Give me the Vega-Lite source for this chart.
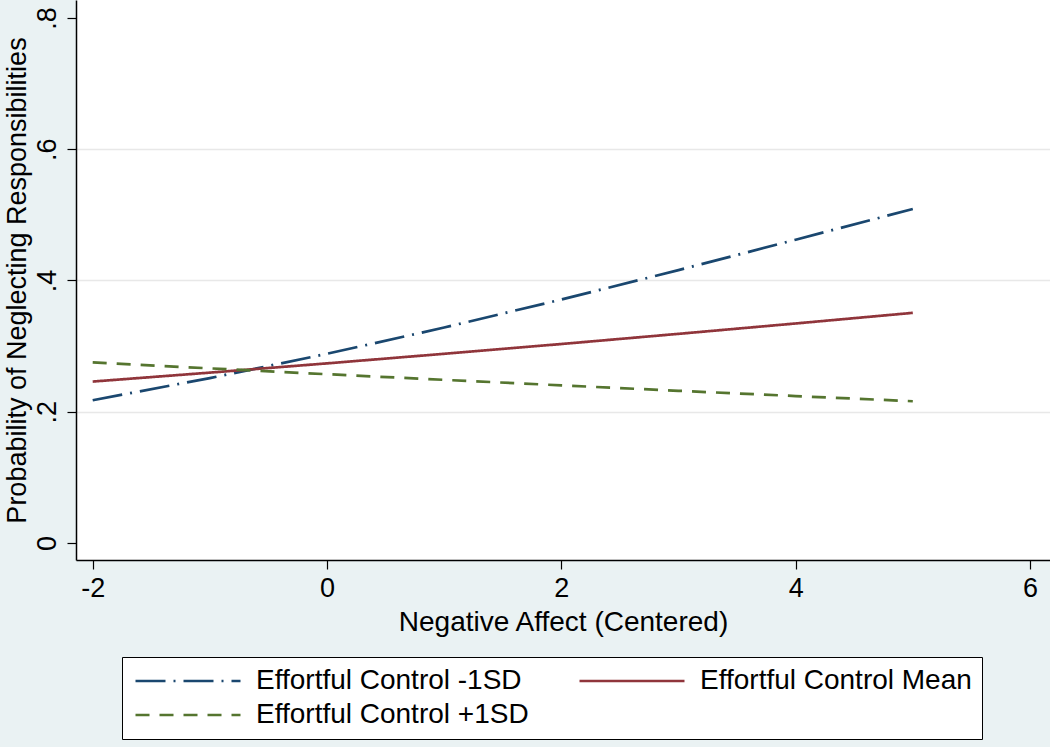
{
  "$schema": "https://vega.github.io/schema/vega-lite/v6.json",
  "width": 974,
  "height": 560,
  "autosize": {"type": "none"},
  "padding": {"left": 76, "top": 0, "right": 0, "bottom": 187},
  "background": "#EAF2F3",
  "config": {
    "font": "Liberation Sans",
    "view": {"fill": "white", "stroke": null},
    "axis": {
      "domainColor": "black",
      "domainWidth": 1.5,
      "tickColor": "black",
      "tickWidth": 1.2,
      "tickSize": 9,
      "labelColor": "black",
      "titleColor": "black",
      "labelFontSize": 27,
      "titleFontSize": 28,
      "titleFontWeight": "normal",
      "gridColor": "#E8E8E8",
      "gridWidth": 1.5
    },
    "legend": {
      "orient": "none",
      "legendX": 46,
      "legendY": 657,
      "direction": "horizontal",
      "columns": 2,
      "columnPadding": 45,
      "rowPadding": 6,
      "padding": 10,
      "strokeColor": "black",
      "fillColor": "white",
      "symbolType": "M-5,0H5",
      "symbolSize": 441,
      "symbolOffset": 42,
      "symbolStrokeWidth": 2.5,
      "labelFontSize": 28,
      "labelColor": "black",
      "labelOffset": 54,
      "labelLimit": 400
    }
  },
  "data": {
    "values": [
      {"series": "Effortful Control -1SD", "x": -2, "p": 0.2175},
      {"series": "Effortful Control -1SD", "x": -1, "p": 0.2513},
      {"series": "Effortful Control -1SD", "x": 0, "p": 0.2883},
      {"series": "Effortful Control -1SD", "x": 1, "p": 0.3283},
      {"series": "Effortful Control -1SD", "x": 2, "p": 0.3710},
      {"series": "Effortful Control -1SD", "x": 3, "p": 0.4158},
      {"series": "Effortful Control -1SD", "x": 4, "p": 0.4621},
      {"series": "Effortful Control -1SD", "x": 5, "p": 0.5090},
      {"series": "Effortful Control Mean", "x": -2, "p": 0.2460},
      {"series": "Effortful Control Mean", "x": -1, "p": 0.2596},
      {"series": "Effortful Control Mean", "x": 0, "p": 0.2737},
      {"series": "Effortful Control Mean", "x": 1, "p": 0.2883},
      {"series": "Effortful Control Mean", "x": 2, "p": 0.3032},
      {"series": "Effortful Control Mean", "x": 3, "p": 0.3187},
      {"series": "Effortful Control Mean", "x": 4, "p": 0.3345},
      {"series": "Effortful Control Mean", "x": 5, "p": 0.3507},
      {"series": "Effortful Control +1SD", "x": -2, "p": 0.2751},
      {"series": "Effortful Control +1SD", "x": -1, "p": 0.2661},
      {"series": "Effortful Control +1SD", "x": 0, "p": 0.2572},
      {"series": "Effortful Control +1SD", "x": 1, "p": 0.2486},
      {"series": "Effortful Control +1SD", "x": 2, "p": 0.2402},
      {"series": "Effortful Control +1SD", "x": 3, "p": 0.2319},
      {"series": "Effortful Control +1SD", "x": 4, "p": 0.2239},
      {"series": "Effortful Control +1SD", "x": 5, "p": 0.2160}
    ]
  },
  "mark": {"type": "line", "strokeWidth": 2.7, "clip": true},
  "encoding": {
    "x": {
      "field": "x",
      "type": "quantitative",
      "scale": {"domain": [-2.1425, 6.171], "nice": false, "zero": false},
      "axis": {
        "title": "Negative Affect (Centered)",
        "values": [-2, 0, 2, 4, 6],
        "labelExpr": "datum.value < 0 ? '-' + abs(datum.value) : '' + datum.value",
        "grid": false,
        "labelPadding": 6,
        "titlePadding": 7
      }
    },
    "y": {
      "field": "p",
      "type": "quantitative",
      "scale": {"domain": [-0.0259, 0.8274], "nice": false, "zero": false},
      "axis": {
        "title": "Probability of Neglecting Responsibilities",
        "titleFontSize": 27,
        "values": [0, 0.2, 0.4, 0.6, 0.8],
        "labelExpr": "datum.value == 0 ? '0' : replace(format(datum.value, '.1f'), '0.', '.')",
        "labelAngle": -90,
        "labelAlign": "center",
        "labelBaseline": "bottom",
        "labelPadding": 6,
        "titlePadding": 2,
        "grid": true,
        "gridOpacity": {"condition": {"test": "datum.value > 0.01 && datum.value < 0.79", "value": 1}, "value": 0}
      }
    },
    "color": {
      "field": "series",
      "type": "nominal",
      "sort": ["Effortful Control -1SD", "Effortful Control Mean", "Effortful Control +1SD"],
      "scale": {
        "domain": ["Effortful Control -1SD", "Effortful Control Mean", "Effortful Control +1SD"],
        "range": ["#1a476f", "#90353b", "#55752f"]
      },
      "legend": {"title": null}
    },
    "strokeDash": {
      "field": "series",
      "type": "nominal",
      "sort": ["Effortful Control -1SD", "Effortful Control Mean", "Effortful Control +1SD"],
      "scale": {
        "domain": ["Effortful Control -1SD", "Effortful Control Mean", "Effortful Control +1SD"],
        "range": [[30, 8, 2, 8], [1, 0], [14, 10]]
      },
      "legend": {"title": null}
    }
  }
}
